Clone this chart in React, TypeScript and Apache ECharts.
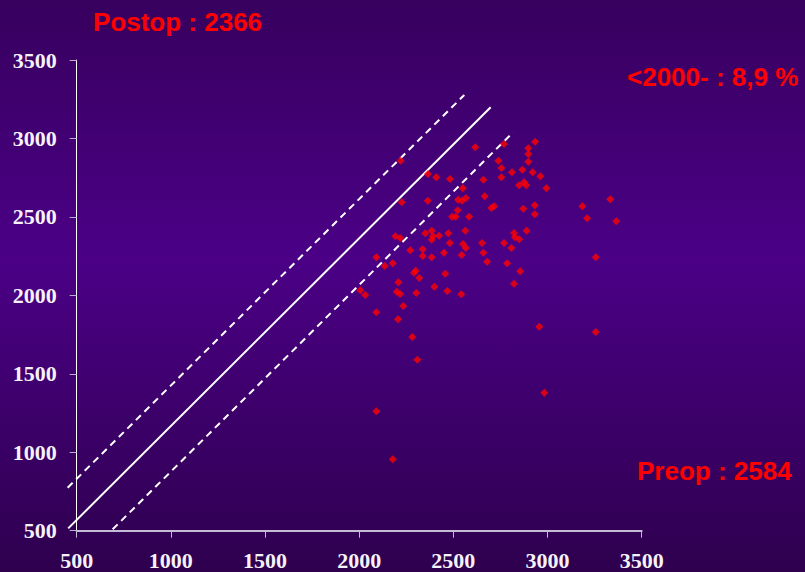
import React, { useEffect, useRef } from "react";
import * as echarts from "echarts";

const preop = [
  2934, 2616, 2769, 2898, 2898, 2220, 2898, 2739, 2755, 2811,
  2866, 2921, 2962, 2365, 2409, 2482, 2659, 2755, 2849, 2875,
  2887, 2994, 2550, 2666, 2364, 2226, 2525, 2546, 2566, 3333,
  3185, 2932, 2871, 2701, 2716, 2523, 2932, 2493, 2512, 2583,
  3210, 3365, 2563, 2889, 2822, 2827, 2849, 2385, 2351, 2424,
  2473, 2392, 2385, 2192, 2218, 2481, 2652, 2769, 2551, 2566,
  2808, 2271, 2337, 2337, 2450, 2544, 2659, 2091, 2385, 2679,
  2785, 3256, 2178, 2135, 2300, 2291, 2319, 2457, 2855, 2208,
  2399, 2822, 2006, 2032, 2199, 2217, 2303, 2468, 2542, 2234,
  2091, 2206, 2956, 3256, 2282, 2309, 2983, 2091, 2178,
];
const postop = [
  2979, 2944, 2965, 2937, 2901, 2858, 2852, 2858, 2812, 2784,
  2801, 2784, 2759, 2773, 2752, 2742, 2737, 2752, 2701, 2721,
  2701, 2682, 2682, 2631, 2603, 2593, 2610, 2603, 2620, 2612,
  2568, 2574, 2552, 2557, 2568, 2542, 2517, 2501, 2501, 2501,
  2491, 2472, 2412, 2412, 2397, 2370, 2357, 2412, 2396, 2380,
  2396, 2376, 2355, 2376, 2366, 2334, 2334, 2334, 2327, 2302,
  2302, 2287, 2294, 2251, 2272, 2257, 2272, 2243, 2243, 2214,
  2204, 2243, 2204, 2187, 2157, 2144, 2111, 2138, 2153, 2083,
  2055, 2074, 2032, 2002, 2023, 2009, 2015, 2028, 2007, 1932,
  1892, 1847, 1800, 1766, 1735, 1590, 1380, 1261, 955,
];

// reference lines: [x1, y1, x2, y2]
const midLine = [455, 515, 2698, 3199];
const upperLine = [452, 774, 2558, 3277];
const lowerLine = [691, 509, 2818, 3040];

const axisTicks = [500, 1000, 1500, 2000, 2500, 3000, 3500];

const titlePostop = "Postop : 2366";
const titleRate = "<2000- : 8,9 %";
const titlePreop = "Preop : 2584";

const pairs = (xs: number[], ys: number[]) => xs.map((x, i) => [x, ys[i]]);

const lineSeries = (seg: number[], dash: number[] | null) => ({
  type: "custom",
  clip: false,
  silent: true,
  encode: { x: [0, 2], y: [1, 3] },
  data: [seg],
  renderItem: (_params: any, api: any) => {
    const p1 = api.coord([api.value(0), api.value(1)]);
    const p2 = api.coord([api.value(2), api.value(3)]);
    return {
      type: "line",
      shape: { x1: p1[0], y1: p1[1], x2: p2[0], y2: p2[1] },
      style: {
        stroke: "#ffffff",
        lineWidth: 2,
        lineDash: dash || undefined,
        fill: null,
      },
    };
  },
});

export default function App() {
  const ref = useRef<HTMLDivElement>(null);
  useEffect(() => {
    if (!ref.current) return;
    const chart = echarts.init(ref.current, undefined, { renderer: "svg" });
    const labelStyle = {
      color: "#f6f2fa",
      fontFamily: "Liberation Serif",
      fontWeight: "bold" as const,
      fontSize: 22,
      formatter: (v: number) => String(v),
    };
    const textStyle = (x: number, y: number, text: string) => ({
      type: "text",
      x,
      y,
      style: {
        text,
        fill: "#ff0000",
        font: "bold 26px 'Liberation Sans', Arial, sans-serif",
        textAlign: "left",
        textVerticalAlign: "middle",
      },
    });
    chart.setOption({
      animation: false,
      backgroundColor: new echarts.graphic.LinearGradient(0, 0, 0, 1, [
        { offset: 0, color: "#37005e" },
        { offset: 0.45, color: "#4b0086" },
        { offset: 1, color: "#2e004e" },
      ]),
      grid: { left: 76.7, right: 163.3, top: 60, bottom: 41.3, containLabel: false },
      xAxis: {
        type: "value",
        min: axisTicks[0],
        max: axisTicks[axisTicks.length - 1],
        interval: 500,
        splitLine: { show: false },
        axisLine: { show: true, onZero: false, lineStyle: { color: "#c4bcd6", width: 2 } },
        axisTick: { show: true, length: 7, lineStyle: { color: "#c4bcd6", width: 1 } },
        axisLabel: { ...labelStyle, margin: 19 },
      },
      yAxis: {
        type: "value",
        min: axisTicks[0],
        max: axisTicks[axisTicks.length - 1],
        interval: 500,
        splitLine: { show: false },
        axisLine: { show: true, onZero: false, lineStyle: { color: "#ffffff", width: 1 } },
        axisTick: { show: true, length: 7, lineStyle: { color: "#b8b0cc", width: 1 } },
        axisLabel: { ...labelStyle, margin: 20 },
      },
      series: [
        lineSeries(midLine, null),
        lineSeries(upperLine, [7, 5]),
        lineSeries(lowerLine, [7, 5]),
        {
          type: "scatter",
          data: pairs(preop, postop),
          symbol: "diamond",
          symbolSize: 8,
          itemStyle: { color: "#ff0000" },
          z: 5,
        },
      ],
      graphic: [
        textStyle(93, 22, titlePostop),
        textStyle(627, 77, titleRate),
        textStyle(637, 471, titlePreop),
      ],
    });
    return () => chart.dispose();
  }, []);
  return (
    <div
      ref={ref}
      style={{ position: "absolute", left: 0, top: 0, width: 805, height: 572 }}
    />
  );
}
